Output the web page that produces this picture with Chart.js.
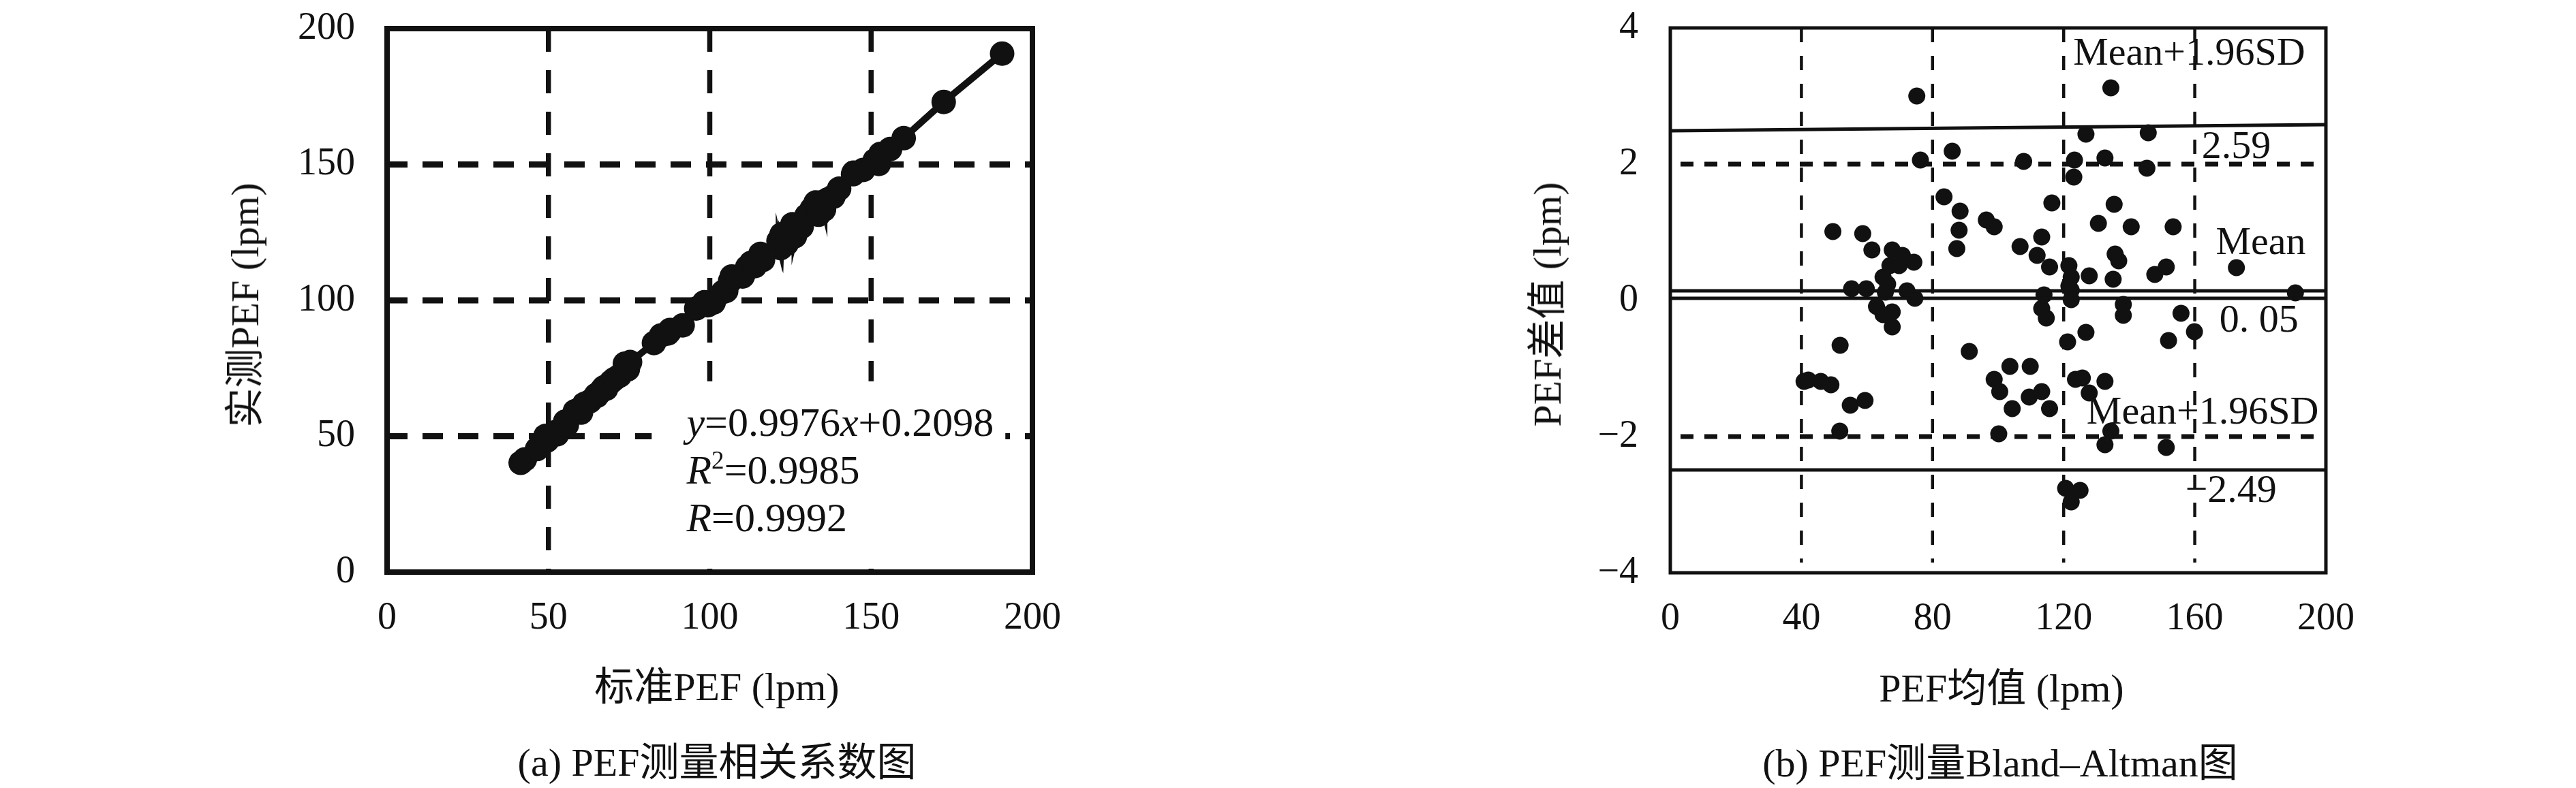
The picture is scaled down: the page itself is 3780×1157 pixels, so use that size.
<!DOCTYPE html>
<html>
<head>
<meta charset="utf-8">
<script src="https://cdn.jsdelivr.net/npm/chart.js@4.4.1/dist/chart.umd.min.js"></script>
<style>
html, body { margin: 0; padding: 0; background: #fff; }
#page { position: relative; width: 3780px; height: 1157px; overflow: hidden;
  font-family: "Liberation Serif", "Noto Sans CJK SC", serif; color: #111; }
canvas { position: absolute; top: 0; }
.t { position: absolute; white-space: nowrap; font-size: 58px; line-height: 1; transform: translate(-50%, -50%); }
.rot { transform: translate(-50%, -50%) rotate(-90deg); }
</style>
</head>
<body>
<div id="page">
  <canvas id="corr" width="1890" height="1157" style="left:0;width:1890px;height:1157px"></canvas>
  <canvas id="ba" width="1890" height="1157" style="left:1890px;width:1890px;height:1157px"></canvas>
  <div class="t" style="left:1052px;top:1009px">标准PEF (lpm)</div>
  <div class="t rot" style="left:360px;top:448px">实测PEF (lpm)</div>
  <div class="t" style="left:1052px;top:1120px">(a) PEF测量相关系数图</div>
  <div class="t" style="left:2937px;top:1011px">PEF均值 (lpm)</div>
  <div class="t rot" style="left:2271px;top:447px">PEF差值 (lpm)</div>
  <div class="t" style="left:2935px;top:1121px">(b) PEF测量Bland–Altman图</div>
</div>
<script>
const ink = "#111"
const serif = "'Liberation Serif', 'Noto Sans CJK SC', serif"

// (a) 标准PEF vs 实测PEF
const stdPef = [41.4, 42.7, 46.5, 49.1, 49.6, 52.1, 52.7, 55.2, 55.7, 58.2, 59.7, 60.1, 61.1, 62.9, 64.7, 65.0, 65.5, 66.2, 66.7, 67.3,
  67.8, 67.9, 69.5, 70.5, 72.1, 73.7, 74.0, 74.6, 75.3, 82.7, 84.9, 87.0, 87.6, 87.7, 91.6, 95.8, 98.3, 99.4, 101.2, 101.2,
  104.1, 105.1, 106.3, 106.8, 110.2, 110.3, 111.6, 112.8, 113.4, 114.0, 114.0, 114.8, 115.5, 115.7, 116.5, 121.3, 121.5, 121.5, 122.0, 122.1,
  122.2, 122.2, 122.3, 122.3, 123.8, 124.2, 125.6, 126.3, 126.4, 127.0, 127.6, 128.5, 130.0, 131.6, 132.8, 133.2, 133.7, 134.7, 135.0, 135.4,
  135.4, 136.5, 138.2, 138.3, 140.1, 144.4, 144.6, 147.6, 151.1, 152.3, 152.4, 152.9, 155.9, 160.1, 172.5, 190.6]
const measPef = [40.2, 41.5, 45.3, 50.1, 48.4, 51.5, 50.7, 55.4, 54.1, 59.2, 59.9, 58.7, 61.9, 62.9, 65.1, 64.8, 65.7, 66.4, 67.3, 68.1,
  67.6, 67.5, 70.1, 71.1, 72.3, 76.7, 74.6, 74.6, 77.3, 84.3, 87.1, 87.8, 88.6, 89.1, 90.8, 97.0, 99.3, 98.2, 99.2, 99.8,
  103.1, 103.5, 107.1, 108.8, 108.8, 109.3, 112.2, 113.8, 113.2, 112.6, 114.0, 114.6, 116.0, 117.1, 114.9, 121.9, 120.9, 121.7, 119.2, 122.5,
  122.4, 124.0, 122.3, 124.3, 120.8, 123.0, 128.0, 125.1, 123.6, 126.6, 128.0, 127.1, 131.2, 133.6, 136.0, 132.0, 131.5, 136.1, 135.3, 133.4,
  136.0, 137.1, 138.2, 138.1, 141.1, 146.4, 147.0, 148.0, 151.5, 151.7, 150.2, 153.9, 155.7, 159.7, 173.0, 190.8]
const corrTicks = [0, 50, 100, 150, 200]

// (b) Bland-Altman
const meanPef = [40.8, 42.1, 45.9, 49.0, 49.6, 51.7, 51.8, 54.9, 55.3, 58.7, 59.4, 59.8, 61.5, 62.9, 64.9, 64.9, 65.6, 66.3, 67.0, 67.7,
  67.7, 67.7, 69.8, 70.8, 72.2, 74.3, 74.6, 75.2, 76.3, 83.5, 86.0, 87.4, 88.1, 88.4, 91.2, 96.4, 98.8, 98.8, 100.2, 100.5,
  103.6, 104.3, 106.7, 107.8, 109.5, 109.8, 111.9, 113.3, 113.3, 113.3, 114.0, 114.7, 115.7, 115.7, 116.4, 120.6, 121.2, 121.6, 121.6, 122.3,
  122.3, 122.3, 122.3, 123.1, 123.3, 123.6, 125.0, 125.7, 126.8, 126.8, 127.8, 127.8, 130.6, 132.6, 132.6, 132.6, 134.4, 134.4, 135.1, 135.4,
  135.7, 136.8, 138.2, 138.2, 140.6, 145.4, 145.8, 147.8, 151.3, 151.3, 152.0, 153.4, 155.8, 159.9, 172.7, 190.7]
const diffPef = [-1.19, -1.17, -1.19, -1.24, 1.01, -1.92, -0.66, -1.54, 0.17, 0.98, -1.47, 0.17, 0.74, -0.09, 0.34, -0.21, 0.12, 0.24, 0.51, 0.74,
  -0.17, -0.39, 0.51, 0.66, 0.14, 0.56, 0.03, 3.00, 2.06, 1.52, 2.19, 0.76, 1.03, 1.31, -0.75, 1.18, 1.08, -1.16, -1.96, -1.34,
  -0.97, -1.59, 0.79, 2.04, -1.42, -0.97, 0.66, 0.93, -0.12, -1.34, 0.08, -0.26, 0.49, -1.59, 1.43, -2.76, -0.61, 0.51, 0.21, 0.34,
  0.15, 0.01, -2.96, 1.81, 2.06, -1.16, -2.79, -1.14, 2.44, -0.47, 0.36, -1.36, 1.13, 2.09, -1.19, -2.12, 3.12, -1.92, 0.31, 1.41,
  0.68, 0.58, -0.06, -0.22, 1.08, 1.94, 2.46, 0.38, 0.49, -2.16, -0.59, 1.08, -0.19, -0.46, 0.48, 0.11]
const baTicksX = [0, 40, 80, 120, 160, 200]
const baTicksY = [-4, -2, 0, 2, 4]
const limitX = [0, 200]
const upperLoA = [2.49, 2.58]
const meanLineA = [0.14, 0.14]
const meanLineB = [0.03, 0.03]
const lowerLoA = [-2.49, -2.49]

function drawRuns(ctx, runs, x, y, size) {
    let cx = x
    runs.forEach(([txt, st]) => {
        let s = size, dy = 0
        if (st === "s") { s = size * 0.62; dy = -size * 0.36 }
        ctx.font = (st === "i" ? "italic " : "") + s + "px " + serif
        ctx.fillText(txt, cx, y + dy)
        cx += ctx.measureText(txt).width
    })
}

const frame = {
    id: "frame",
    beforeDatasetsDraw(chart, args, o) {
        const { ctx, chartArea: a, scales: { x, y } } = chart
        ctx.save()
        ctx.strokeStyle = ink
        ctx.lineWidth = o.vWidth
        ctx.setLineDash(o.vDash)
        o.vLines.forEach(v => {
            const px = x.getPixelForValue(v)
            ctx.beginPath(); ctx.moveTo(px, a.top); ctx.lineTo(px, a.bottom - o.vCut); ctx.stroke()
        })
        ctx.lineWidth = o.hWidth
        ctx.setLineDash(o.hDash)
        o.hLines.forEach(v => {
            const py = y.getPixelForValue(v)
            ctx.beginPath(); ctx.moveTo(a.left + o.hStart, py); ctx.lineTo(a.right, py); ctx.stroke()
        })
        if (o.box) {
            const b = o.box
            const x0 = x.getPixelForValue(b[0]), x1 = x.getPixelForValue(b[1])
            const y0 = y.getPixelForValue(b[2]), y1 = y.getPixelForValue(b[3])
            ctx.fillStyle = "#fff"
            ctx.fillRect(x0, y0, x1 - x0, y1 - y0)
        }
        ctx.restore()
    },
    afterDraw(chart, args, o) {
        const { ctx, chartArea: a, scales: { x, y } } = chart
        ctx.save()
        ctx.strokeStyle = ink
        ctx.lineWidth = o.border
        ctx.setLineDash([])
        ctx.strokeRect(a.left, a.top, a.right - a.left, a.bottom - a.top)
        ctx.fillStyle = ink
        ctx.textBaseline = "alphabetic"
        ctx.textAlign = "left"
        o.notes.forEach(n => drawRuns(ctx, n.runs, x.getPixelForValue(n.x), y.getPixelForValue(n.y), o.noteSize))
        ctx.restore()
    }
}

// gap between axis and labels is made with an invisible tick mark,
// so it does not push the plot area down
function axis(min, max, step, size, gap, fmt) {
    return {
        type: "linear", min, max,
        afterFit: s => { if (s.isHorizontal()) s.height = size; else s.width = size },
        grid: { display: true, drawOnChartArea: false, drawTicks: true, tickLength: gap, color: "rgba(0,0,0,0)" },
        border: { display: false },
        ticks: {
            stepSize: step, padding: 0, color: ink,
            font: { family: serif, size: 56 },
            callback: fmt || (v => String(v))
        }
    }
}

// (a)
new Chart(document.querySelector("#corr"), {
    type: "scatter",
    data: {
        datasets: [{
            data: stdPef.map((v, i) => ({ x: v, y: measPef[i] })),
            showLine: true,
            borderColor: ink, backgroundColor: ink,
            borderWidth: 10, pointRadius: 18, pointBorderWidth: 0
        }]
    },
    options: {
        responsive: false, animation: false,
        layout: { padding: { left: 0, top: 42, right: 375, bottom: 0 } },
        scales: {
            x: axis(0, 200, 50, 317, 35),
            y: axis(0, 200, 50, 568, 47)
        },
        plugins: {
            legend: { display: false }, tooltip: { enabled: false },
            frame: {
                vLines: corrTicks.slice(1, -1), hLines: corrTicks.slice(1, -1),
                vWidth: 7.5, vDash: [34, 27], vCut: 0,
                hWidth: 9, hDash: [30, 22], hStart: 0,
                box: [82, 191.6, 70.2, 3.3],
                border: 8, noteSize: 60,
                notes: [
                    { x: 92.8, y: 50.1, runs: [["y", "i"], ["=0.9976", ""], ["x", "i"], ["+0.2098", ""]] },
                    { x: 92.8, y: 32.6, runs: [["R", "i"], ["2", "s"], ["=0.9985", ""]] },
                    { x: 92.8, y: 15.0, runs: [["R", "i"], ["=0.9992", ""]] }
                ]
            }
        }
    },
    plugins: [frame]
})

// (b)
const lineSet = (ys) => ({
    data: limitX.map((v, i) => ({ x: v, y: ys[i] })),
    showLine: true, borderColor: ink, borderWidth: 5, pointRadius: 0
})
new Chart(document.querySelector("#ba"), {
    type: "scatter",
    data: {
        datasets: [
            lineSet(upperLoA), lineSet(meanLineA), lineSet(meanLineB), lineSet(lowerLoA),
            {
                data: meanPef.map((v, i) => ({ x: v, y: diffPef[i] })),
                backgroundColor: ink, borderColor: ink,
                pointRadius: 12.5, pointBorderWidth: 0
            }
        ]
    },
    options: {
        responsive: false, animation: false,
        layout: { padding: { left: 0, top: 41, right: 367, bottom: 0 } },
        scales: {
            x: axis(0, 200, 40, 316, 35),
            y: axis(-4, 4, 2, 561, 47, v => v < 0 ? "\u2212" + (-v) : String(v))
        },
        plugins: {
            legend: { display: false }, tooltip: { enabled: false },
            frame: {
                vLines: baTicksX.slice(1, -1), hLines: baTicksY.filter(v => Math.abs(v) === 2),
                vWidth: 4.5, vDash: [21, 20], vCut: 15,
                hWidth: 7, hDash: [19, 16], hStart: 15,
                box: null,
                border: 5, noteSize: 58,
                notes: [
                    { x: 122.9, y: 3.46, runs: [["Mean+1.96SD", ""]] },
                    { x: 162.1, y: 2.09, runs: [["2.59", ""]] },
                    { x: 166.4, y: 0.68, runs: [["Mean", ""]] },
                    { x: 167.5, y: -0.46, runs: [["0. 05", ""]] },
                    { x: 127.0, y: -1.81, runs: [["Mean+1.96SD", ""]] },
                    { x: 157.1, y: -2.96, runs: [["\u22122.49", ""]] }
                ]
            }
        }
    },
    plugins: [frame]
})
</script>
</body>
</html>
